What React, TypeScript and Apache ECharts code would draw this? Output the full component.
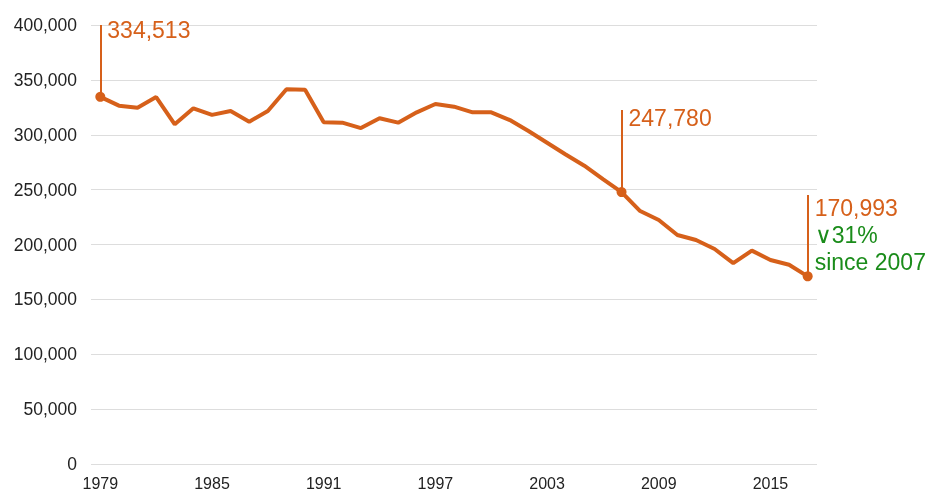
import React, { useEffect, useRef } from "react";
import * as echarts from "echarts";

const years: string[] = [
  "1979","1980","1981","1982","1983","1984","1985","1986","1987","1988",
  "1989","1990","1991","1992","1993","1994","1995","1996","1997","1998",
  "1999","2000","2001","2002","2003","2004","2005","2006","2007","2008",
  "2009","2010","2011","2012","2013","2014","2015","2016","2017",
];

const values: number[] = [
  334513, 326500, 324700, 334300, 309500, 324100, 318100, 321600, 311900, 321600,
  341400, 341000, 311400, 311000, 306100, 315000, 311000, 320400, 328000, 325600,
  320400, 320400, 313400, 303400, 292700, 282000, 271800, 259500, 247780, 230500,
  222300, 208700, 204100, 195900, 183000, 194400, 185900, 181600, 170993,
];

const highlightYears: string[] = ["1979", "2007", "2017"];
// top of the vertical annotation lines (in data units)
const annotationTops: number[] = [400000, 322500, 245100];
const yTicks = { min: 0, max: 400000, interval: 50000 };

const ORANGE = "#d6601a";
const GREEN = "#1a8c1a";
const FONT = "Liberation Sans, Arial, sans-serif";

export default function App() {
  const ref = useRef<HTMLDivElement>(null);

  useEffect(() => {
    if (!ref.current) return;
    const chart = echarts.init(ref.current, undefined, { renderer: "svg" });
    const fmt = (v: number) => v.toLocaleString("en-US");

    const seriesData = values.map((v, i) =>
      highlightYears.includes(years[i])
        ? { value: v, symbol: "circle", symbolSize: 10 }
        : { value: v, symbol: "none" }
    );

    const markLines = highlightYears.map((y, k) => [
      { coord: [y, values[years.indexOf(y)]] },
      { coord: [y, annotationTops[k]] },
    ]);

    const labelOffsets = [5, 8, 40];
    const markPoints = highlightYears.map((y, k) => {
      const v = values[years.indexOf(y)];
      let formatter = `{o|${fmt(v)}}`;
      if (k === 2) {
        const base = values[years.indexOf("2007")];
        const pct = Math.round(((base - v) / base) * 100);
        formatter = `{o|${fmt(v)}}\n{g|\u2228${pct}%}\n{g|since 2007}`;
      }
      return {
        coord: [y, annotationTops[k]],
        symbol: "circle",
        symbolSize: 0,
        label: {
          show: true,
          position: "right",
          distance: 7,
          offset: [0, labelOffsets[k]],
          formatter,
          rich: {
            o: { color: ORANGE, fontSize: 23, lineHeight: 26, fontFamily: FONT },
            g: { color: GREEN, fontSize: 23, lineHeight: 27, fontFamily: FONT },
          },
        },
      };
    });

    chart.setOption({
      animation: false,
      textStyle: { fontFamily: FONT },
      grid: { left: 91, right: 113, top: 25, bottom: 27, containLabel: false },
      xAxis: {
        type: "category",
        data: years,
        boundaryGap: true,
        axisLine: { show: false },
        axisTick: { show: false },
        axisLabel: { interval: 5, color: "#222", fontSize: 16, margin: 11 },
        splitLine: { show: false },
      },
      yAxis: {
        type: "value",
        min: yTicks.min,
        max: yTicks.max,
        interval: yTicks.interval,
        axisLine: { show: false },
        axisTick: { show: false },
        axisLabel: { color: "#222", fontSize: 17.5, margin: 14, formatter: (v: number) => fmt(v) },
        splitLine: { lineStyle: { color: "#dddddd", width: 1 } },
      },
      series: [
        {
          type: "line",
          data: seriesData,
          clip: false,
          showAllSymbol: true,
          lineStyle: { color: ORANGE, width: 4 },
          itemStyle: { color: ORANGE },
          emphasis: { disabled: true },
          markLine: {
            silent: true,
            symbol: "none",
            label: { show: false },
            lineStyle: { color: ORANGE, width: 2, type: "solid" },
            data: markLines,
          },
          markPoint: {
            silent: true,
            data: markPoints,
          },
        },
      ],
    });

    return () => chart.dispose();
  }, []);

  return (
    <div
      ref={ref}
      style={{ position: "fixed", left: 0, top: 0, width: 930, height: 491 }}
    />
  );
}
